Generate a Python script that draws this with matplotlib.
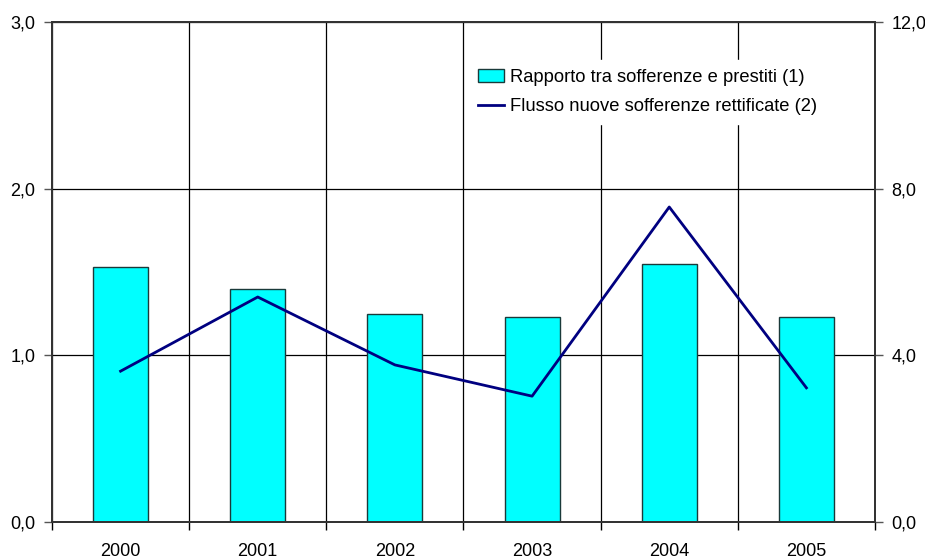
import numpy as np
import matplotlib.pyplot as plt
from matplotlib.ticker import FixedLocator, FuncFormatter

plt.rcParams['font.family'] = ['Liberation Sans', 'DejaVu Sans']
plt.rcParams['font.size'] = 13

years = ['2000', '2001', '2002', '2003', '2004', '2005']
rapporto = [1.53, 1.40, 1.25, 1.23, 1.55, 1.23]      # sofferenze / prestiti, left axis
flusso = [3.62, 5.40, 3.77, 3.02, 7.56, 3.22]        # nuove sofferenze rettificate, right axis

bar_color = '#00FFFF'
line_color = '#000080'
comma = FuncFormatter(lambda v, pos: f'{v:.1f}'.replace('.', ','))

fig = plt.figure(figsize=(9.25, 5.58), dpi=100)
ax = fig.add_axes([52 / 925, 1 - 522 / 558, 823 / 925, 500 / 558])
x = np.arange(len(years))

ax.set_axisbelow(True)
bars = ax.bar(x, rapporto, width=0.4, color=bar_color, edgecolor='#1a3a3a',
              linewidth=1.0, label='Rapporto tra sofferenze e prestiti (1)', zorder=2)

ax.set_xlim(-0.5, len(years) - 0.5)
ax.set_ylim(0, 3)
ax.yaxis.set_major_locator(FixedLocator([0, 1, 2, 3]))
ax.yaxis.set_major_formatter(comma)
ax.set_xticks(x)
ax.set_xticklabels(years)
ax.xaxis.set_minor_locator(FixedLocator(np.arange(-0.5, len(years), 1.0)))
ax.tick_params(axis='x', which='major', length=0, pad=15)
ax.tick_params(axis='x', which='minor', length=6, width=1, color='black')
ax.tick_params(axis='y', length=6, width=1, color='#555555', pad=6)
ax.grid(axis='y', which='major', color='black', linewidth=0.9)
ax.grid(axis='x', which='minor', color='black', linewidth=0.9)
for s in ax.spines.values():
    s.set_color('#333333')
    s.set_linewidth(1.3)

ax2 = ax.twinx()
line, = ax2.plot(x, flusso, color=line_color, linewidth=2,
                 label='Flusso nuove sofferenze rettificate (2)', zorder=3)
ax2.set_ylim(0, 12)
ax2.yaxis.set_major_locator(FixedLocator([0, 4, 8, 12]))
ax2.yaxis.set_major_formatter(comma)
ax2.tick_params(axis='y', length=6, width=1, color='#555555', pad=6)
for s in ax2.spines.values():
    s.set_color('#333333')
    s.set_linewidth(1.3)

leg = ax2.legend([bars, line], [bars.get_label(), line.get_label()],
                 loc='upper left', bbox_to_anchor=(0.495, 0.943),
                 frameon=True, facecolor='white', edgecolor='white', framealpha=1,
                 fancybox=False, handlelength=1.45, handleheight=0.7,
                 handletextpad=0.3, borderpad=0.5, labelspacing=0.68, fontsize=13.2)

fig.savefig('out.png', dpi=100)
